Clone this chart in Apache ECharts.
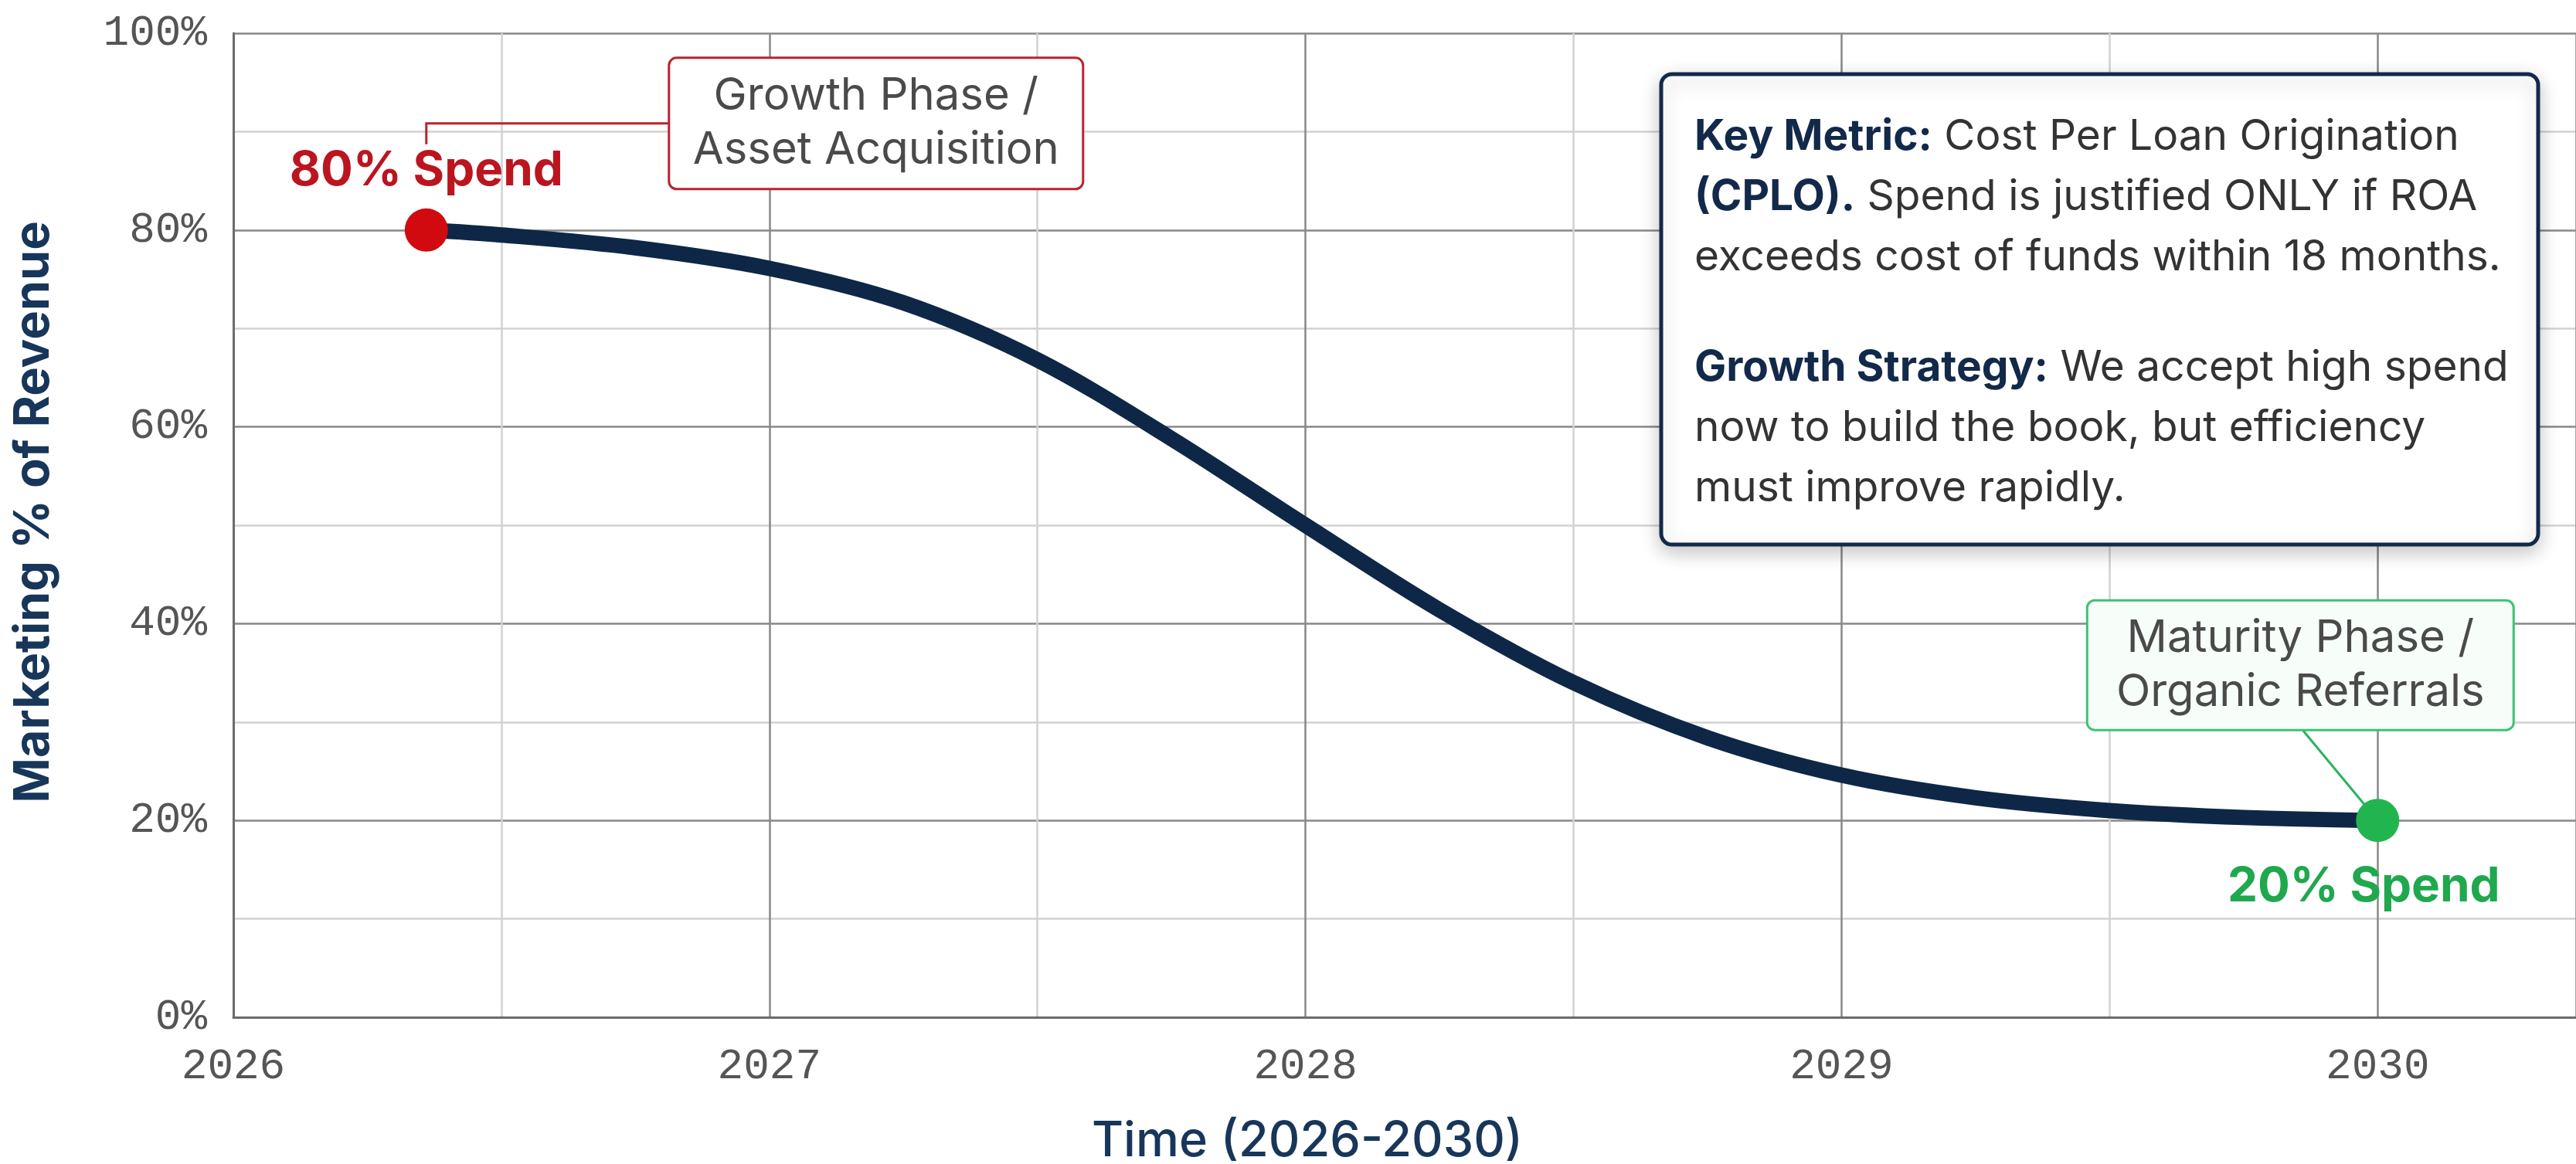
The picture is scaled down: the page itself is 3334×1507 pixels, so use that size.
<!DOCTYPE html>
<html>
<head>
<meta charset="utf-8">
<script src="https://cdn.jsdelivr.net/npm/echarts@6/dist/echarts.min.js"></script>
<style>
html,body{margin:0;padding:0;background:#fff}
#main{width:3334px;height:1507px}
</style>
</head>
<body>
<div id="main"></div>
<script>
// curve
var years = [2026.36, 2026.5, 2026.75, 2027.0, 2027.25, 2027.5, 2027.75, 2028.0, 2028.25, 2028.5, 2028.75, 2029.0, 2029.25, 2029.5, 2029.75, 2030.0];
var spend = [80, 79.5, 78.2, 76.1, 72.6, 66.8, 58.8, 50, 41.4, 34.0, 28.4, 24.6, 22.3, 21.0, 20.3, 20];
var yearTicks = [2026, 2027, 2028, 2029, 2030];
var startLabel = '80% Spend';
var endLabel = '20% Spend';
var growthNote = ['Growth Phase /', 'Asset Acquisition'];
var maturityNote = ['Maturity Phase /', 'Organic Referrals'];

var navy = '#0e2747';
var red = '#d10a10';
var green = '#22b54f';

var chart = echarts.init(document.getElementById('main'));

var seriesData = years.map(function (y, i) {
  var item = { value: [y, spend[i]], symbol: 'none' };
  if (i === 0) {
    item.symbol = 'circle';
    item.itemStyle = { color: red };
    item.label = {
      show: true, formatter: startLabel, position: 'inside', offset: [0, -76],
      color: '#bb1520', fontFamily: 'Inter', fontWeight: 700, fontSize: 62
    };
  }
  if (i === years.length - 1) {
    item.symbol = 'circle';
    item.itemStyle = { color: green };
    item.label = {
      show: true, formatter: endLabel, position: 'inside', offset: [-18, 86],
      color: '#1fa84d', fontFamily: 'Inter', fontWeight: 700, fontSize: 62
    };
  }
  return item;
});

var option = {
  animation: false,
  backgroundColor: '#fff',
  grid: { left: 302, top: 43, right: 0, bottom: 190, outerBoundsMode: 'none', containLabel: false },
  xAxis: {
    type: 'value', min: 2026, max: 2030.37, interval: 1,
    name: 'Time (2026-2030)', nameLocation: 'middle', nameGap: 130,
    nameTextStyle: {
      color: '#17365a', fontFamily: 'Inter', fontWeight: 500, fontSize: 63,
      padding: [0, 252, 0, 0]
    },
    axisLine: { show: true, lineStyle: { color: '#6b6b6b', width: 3 } },
    axisTick: { show: false },
    axisLabel: {
      margin: 36, color: '#555', fontFamily: 'Liberation Mono', fontSize: 56,
      showMaxLabel: false,
      formatter: function (v) { return yearTicks.indexOf(v) >= 0 ? String(v) : ''; }
    },
    splitLine: { show: true, lineStyle: { color: '#888', width: 2.5 } },
    minorTick: { show: false, splitNumber: 2 },
    minorSplitLine: { show: true, lineStyle: { color: '#d2d2d2', width: 2.5 } }
  },
  yAxis: {
    type: 'value', min: 0, max: 100, interval: 20,
    name: 'Marketing % of Revenue', nameLocation: 'middle', nameGap: 226, nameRotate: 90,
    nameTextStyle: {
      color: '#17365a', fontFamily: 'Inter', fontWeight: 700, fontSize: 63,
      padding: [0, 0, 0, 34]
    },
    axisLine: { show: true, lineStyle: { color: '#6b6b6b', width: 3 } },
    axisTick: { show: false },
    axisLabel: {
      margin: 34, color: '#555', fontFamily: 'Liberation Mono', fontSize: 56,
      formatter: '{value}%'
    },
    splitLine: { show: true, lineStyle: { color: '#888', width: 2.5 } },
    minorTick: { show: false, splitNumber: 2 },
    minorSplitLine: { show: true, lineStyle: { color: '#d2d2d2', width: 2.5 } }
  },
  series: [{
    type: 'line',
    data: seriesData,
    smooth: 0.33,
    symbolSize: 56,
    z: 5,
    lineStyle: { color: navy, width: 20, cap: 'round', join: 'round' },
    itemStyle: { color: navy }
  }]
};
chart.setOption(option);

// annotations placed from the chart's own scales
var p1 = chart.convertToPixel({ gridIndex: 0 }, [years[0], spend[0]]);
var p2 = chart.convertToPixel({ gridIndex: 0 }, [years[years.length - 1], spend[spend.length - 1]]);

var g1 = { x: p1[0] + 314, y: p1[1] - 223, w: 536, h: 170 };
var g2 = { x: p2[0] - 376, y: p2[1] - 285, w: 552, h: 168 };
var boxFont = '400 58px Inter';

chart.setOption({
  graphic: [
    {
      type: 'polyline', z: 3,
      shape: { points: [[p1[0], p1[1] - 111], [p1[0], p1[1] - 138], [g1.x, p1[1] - 138]] },
      style: { stroke: '#b8242c', lineWidth: 3, fill: null }
    },
    {
      type: 'rect', z: 4,
      shape: { x: g1.x, y: g1.y, width: g1.w, height: g1.h, r: 10 },
      style: { fill: '#fff', stroke: '#b8242c', lineWidth: 3 }
    },
    {
      type: 'text', z: 5, x: g1.x + g1.w / 2, y: g1.y + g1.h / 2,
      style: {
        text: growthNote.join('\n'), align: 'center', verticalAlign: 'middle',
        fill: '#4a4a4a', font: boxFont, lineHeight: 70
      }
    },
    {
      type: 'line', z: 3,
      shape: { x1: p2[0] - 97, y1: g2.y + g2.h, x2: p2[0], y2: p2[1] },
      style: { stroke: '#2bb35f', lineWidth: 3 }
    },
    {
      type: 'rect', z: 4,
      shape: { x: g2.x, y: g2.y, width: g2.w, height: g2.h, r: 10 },
      style: { fill: '#f7fdf9', stroke: '#3cc274', lineWidth: 3 }
    },
    {
      type: 'text', z: 5, x: g2.x + g2.w / 2, y: g2.y + g2.h / 2,
      style: {
        text: maturityNote.join('\n'), align: 'center', verticalAlign: 'middle',
        fill: '#4a4a4a', font: boxFont, lineHeight: 70
      }
    },
    {
      type: 'rect', z: 4,
      shape: { x: 2150, y: 96, width: 1135, height: 609, r: 14 },
      style: {
        fill: '#fff', stroke: '#12294a', lineWidth: 5,
        shadowBlur: 24, shadowOffsetY: 8, shadowColor: 'rgba(0,0,0,0.22)'
      }
    },
    {
      type: 'text', z: 5, x: 2193, y: 138,
      style: {
        text: '{b|Key Metric:} Cost Per Loan Origination\n{b|(CPLO).} Spend is justified ONLY if ROA\nexceeds cost of funds within 18 months.',
        font: '400 55px Inter', fill: '#333', lineHeight: 78,
        rich: { b: { font: '700 55px Inter', fill: '#12294a', lineHeight: 78 } }
      }
    },
    {
      type: 'text', z: 5, x: 2193, y: 437,
      style: {
        text: '{b|Growth Strategy:} We accept high spend\nnow to build the book, but efficiency\nmust improve rapidly.',
        font: '400 55px Inter', fill: '#333', lineHeight: 78,
        rich: { b: { font: '700 55px Inter', fill: '#12294a', lineHeight: 78 } }
      }
    }
  ]
});
</script>
</body>
</html>
